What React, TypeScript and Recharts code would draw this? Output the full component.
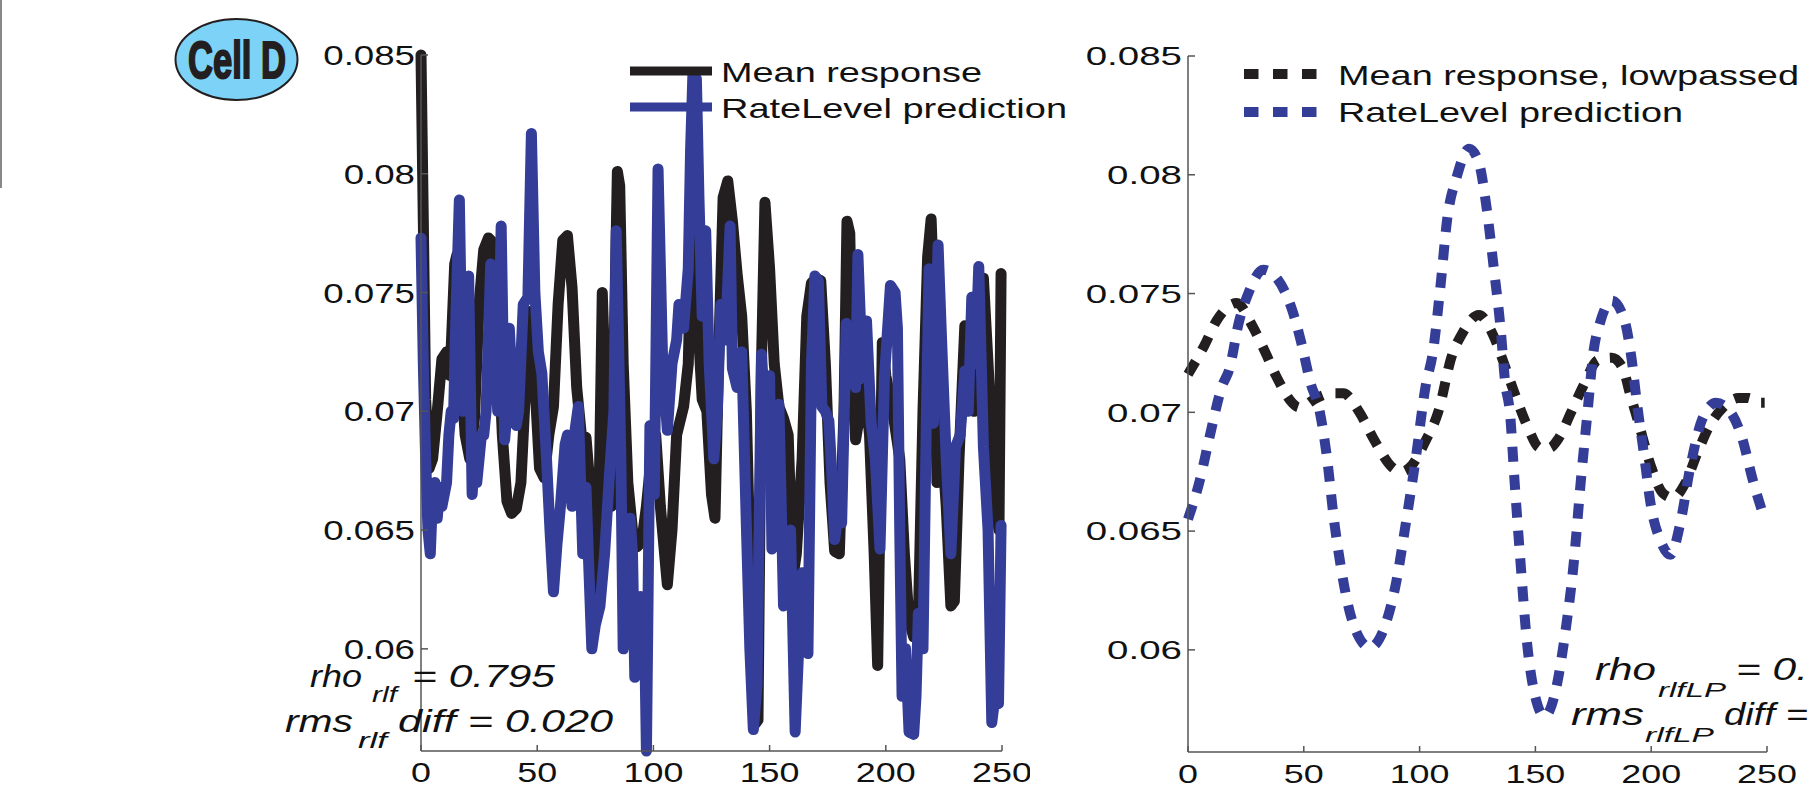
import { LineChart, Line, XAxis, YAxis } from "recharts"

const FONT = '"Liberation Sans", Arial, Helvetica, sans-serif'
const BLACK = "#231f20"
const BLUE = "#343d97"
const AXIS = "#555"

const xTicks = [0, 50, 100, 150, 200, 250]
const yTicks = [0.06, 0.065, 0.07, 0.075, 0.08, 0.085]
const yDomain = [0.0557, 0.085]

// left panel: raw responses
const meanResponse = [
  [0, 0.085], [1, 0.078], [2, 0.0705], [3.5, 0.0676], [5, 0.068], [7, 0.07], [9, 0.0722], [11, 0.0725],
  [12.5, 0.0715], [14.5, 0.0762], [15.5, 0.0766], [17, 0.072], [19, 0.069], [21, 0.068], [23, 0.0697],
  [25, 0.0745], [27, 0.0768], [29, 0.0773], [31, 0.0771], [33, 0.0735], [35, 0.069], [37, 0.0662],
  [39, 0.0657], [41, 0.0659], [43, 0.067], [45, 0.071], [47, 0.0742], [49, 0.0712], [51, 0.0676],
  [53, 0.0672], [55, 0.069], [57, 0.0702], [59, 0.0745], [61, 0.0772], [63, 0.0774], [65, 0.0752],
  [67, 0.071], [69, 0.069], [71, 0.0689], [73, 0.0665], [75, 0.0612], [76.5, 0.0655], [78, 0.075],
  [80, 0.069], [82, 0.066], [83, 0.072], [84.5, 0.0801], [85.5, 0.0795], [87, 0.072], [89, 0.067],
  [91, 0.065], [93, 0.0643], [95, 0.0645], [97, 0.066], [99, 0.068], [101, 0.069], [103, 0.066],
  [106, 0.0627], [108, 0.065], [110, 0.069], [113, 0.0702], [115, 0.072], [117, 0.0796], [119, 0.074],
  [121, 0.0705], [123, 0.07], [125, 0.0665], [126.5, 0.0655], [128, 0.072], [130, 0.079], [132, 0.0797],
  [134, 0.078], [136, 0.0758], [138, 0.074], [140, 0.07], [142, 0.062], [143.5, 0.0568], [145, 0.057],
  [146.5, 0.072], [148, 0.0788], [150, 0.076], [152, 0.072], [154, 0.0702], [156, 0.0697], [158, 0.069],
  [160, 0.063], [161.5, 0.064], [164, 0.068], [166, 0.074], [168, 0.0754], [170, 0.0756], [172, 0.0755],
  [174, 0.072], [176, 0.067], [178, 0.0641], [180, 0.064], [182, 0.07], [183.3, 0.078], [184.5, 0.0775],
  [185.5, 0.072], [187, 0.0688], [189, 0.07], [191, 0.071], [193, 0.069], [195, 0.064], [196.5, 0.0593],
  [198.5, 0.0729], [200, 0.0715], [203, 0.07], [206, 0.068], [208, 0.064], [210, 0.0612], [212, 0.0605],
  [214, 0.0612], [216, 0.07], [218, 0.0765], [219.5, 0.0781], [221, 0.074], [222, 0.067], [224, 0.069],
  [226, 0.066], [228, 0.0618], [229.5, 0.062], [231.5, 0.068], [234, 0.0736], [236, 0.071], [238, 0.07],
  [240, 0.073], [242, 0.0756], [244, 0.072], [246, 0.068], [247, 0.066], [248.7, 0.065], [249.6, 0.0758],
]

const rateLevel = [
  [0, 0.0773], [1, 0.072], [2, 0.068], [3, 0.065], [4, 0.064], [5, 0.0665], [6, 0.067], [7, 0.0655],
  [8, 0.0668], [9, 0.066], [10, 0.0665], [11, 0.067], [12, 0.069], [13, 0.07], [14, 0.0697], [15, 0.074],
  [16.5, 0.0789], [18, 0.07], [19, 0.0705], [20.5, 0.0757], [22, 0.0665], [23, 0.068], [24, 0.067],
  [26, 0.069], [27, 0.069], [28, 0.07], [30, 0.0762], [32, 0.0719], [33, 0.07], [34.5, 0.0778],
  [36, 0.0688], [37, 0.07], [38, 0.0735], [39, 0.0715], [41, 0.0694], [42, 0.07], [44, 0.0745],
  [46, 0.0748], [47.5, 0.0817], [49, 0.075], [50.5, 0.0725], [52, 0.0716], [54, 0.068], [55.5, 0.065],
  [57, 0.0624], [58.5, 0.0644], [60, 0.066], [62, 0.0686], [63, 0.069], [65, 0.066], [66, 0.069],
  [67.7, 0.0702], [69.6, 0.064], [71, 0.0668], [72, 0.064], [73.5, 0.06], [75, 0.061], [77, 0.0618],
  [79, 0.064], [81, 0.0672], [83, 0.07], [84, 0.0776], [85, 0.073], [86, 0.068], [87, 0.06], [88, 0.061],
  [90, 0.0655], [91, 0.064], [92, 0.0588], [93.5, 0.06], [94.6, 0.0622], [96, 0.062], [97, 0.0557],
  [98.5, 0.0694], [100.4, 0.0665], [102, 0.0802], [104, 0.072], [106, 0.0692], [108, 0.072], [110, 0.073],
  [111, 0.0745], [113, 0.0735], [115, 0.076], [116, 0.081], [117, 0.0842], [118.5, 0.084], [119.6, 0.079],
  [121, 0.074], [122.5, 0.0776], [124, 0.072], [126, 0.068], [127.5, 0.07], [129, 0.0745], [131, 0.073],
  [133, 0.0778], [134, 0.0718], [136, 0.071], [138, 0.0725], [140, 0.0652], [141.5, 0.06], [143, 0.0566],
  [144.6, 0.0585], [146.5, 0.0724], [148, 0.07], [150, 0.0715], [151, 0.0642], [152.5, 0.068],
  [154, 0.0703], [156, 0.0618], [157.5, 0.064], [159, 0.065], [161, 0.0565], [162.5, 0.06], [164, 0.0632],
  [166.5, 0.0598], [168, 0.072], [169.5, 0.0757], [171, 0.0755], [172.5, 0.0702], [174, 0.07],
  [175.5, 0.0696], [177, 0.067], [178, 0.0646], [180, 0.066], [181, 0.0653], [183, 0.0737], [185, 0.0725],
  [187, 0.071], [188, 0.0766], [190, 0.0714], [191.7, 0.0738], [193.7, 0.0695], [195.5, 0.068],
  [197.5, 0.0642], [199.4, 0.0714], [202, 0.0753], [204, 0.075], [205, 0.0735], [206, 0.065], [207, 0.058],
  [208.5, 0.06], [210, 0.0565], [212, 0.0564], [213, 0.058], [214, 0.0615], [216, 0.06], [217.5, 0.07],
  [218.6, 0.076], [220.5, 0.0695], [222.5, 0.077], [224, 0.073], [226, 0.068], [228, 0.064], [230, 0.0685],
  [232, 0.069], [234, 0.0717], [235.5, 0.07], [237, 0.0748], [238.5, 0.072], [240, 0.0761], [242, 0.0685],
  [244, 0.065], [245.6, 0.0569], [247, 0.058], [248.5, 0.0577], [249.6, 0.0652],
]

// right panel: lowpassed
const meanLowpassed = [
  [0, 0.0716], [7, 0.0728], [12.6, 0.0739], [21, 0.0746], [28, 0.0736], [33.5, 0.0725], [38.7, 0.0714],
  [45, 0.0704], [48, 0.0702], [55.5, 0.0706], [62, 0.0708], [67, 0.0708], [74, 0.07], [80.6, 0.0688],
  [88, 0.0677], [92, 0.0675], [96, 0.0677], [102.6, 0.0688], [108, 0.07], [114, 0.0724], [118.3, 0.0733],
  [125.6, 0.0741], [132, 0.0732], [137, 0.0719], [141, 0.0708], [146.6, 0.0694], [152, 0.0685],
  [156, 0.0685], [160, 0.0689], [165.4, 0.07], [170.6, 0.0711], [177, 0.0722], [183, 0.0723], [188, 0.0718],
  [190.5, 0.0709], [194.7, 0.0695], [200, 0.0677], [205, 0.0666], [209.4, 0.0664], [214.6, 0.067],
  [220, 0.0683], [225, 0.0694], [231, 0.0702], [237.6, 0.0706], [242, 0.0706], [246, 0.0704], [249, 0.0704],
]

const rateLevelLowpassed = [
  [0, 0.0655], [5, 0.0671], [9.4, 0.069], [14.7, 0.0711], [17.8, 0.0718], [22, 0.0738], [26, 0.075],
  [32.5, 0.076], [38.7, 0.0756], [45, 0.0743], [49, 0.0729], [53, 0.0712], [56.5, 0.0702], [60, 0.0681],
  [63, 0.0655], [66, 0.0635], [71, 0.0612], [78.5, 0.0601], [85, 0.061], [90, 0.0629], [94, 0.0653],
  [98.4, 0.0681], [102.6, 0.0711], [105.7, 0.0725], [109, 0.0753], [112, 0.0782], [116, 0.0799],
  [121.4, 0.0811], [125.6, 0.0805], [128.8, 0.0787], [132, 0.0761], [135, 0.0735], [137, 0.0712],
  [139, 0.07], [141, 0.0671], [143.4, 0.0639], [146.6, 0.0601], [150, 0.058], [154, 0.0572], [159, 0.0584],
  [163, 0.0608], [166.5, 0.0636], [169.6, 0.0671], [172.7, 0.0702], [175, 0.0725], [178, 0.0738],
  [183, 0.0747], [188.4, 0.0739], [191.6, 0.0722], [193.7, 0.0705], [196.8, 0.0683], [200, 0.066],
  [204, 0.0646], [208.3, 0.064], [212.5, 0.0653], [216.7, 0.0676], [222, 0.0697], [228, 0.0704],
  [233.5, 0.0701], [239, 0.069], [244, 0.0671], [249, 0.0655],
]

const rows = (pts: number[][]) => pts.map(([x, y]) => ({ x, y }))

function YTick({ x, y, payload, size, sx }: any) {
  return (
    <g>
      <line x1={x} x2={x + 7} y1={y} y2={y} stroke={AXIS} strokeWidth={1.5} />
      <text
        transform={`translate(${x - 6},${y}) scale(${sx},1)`}
        textAnchor="end"
        dy="0.36em"
        fontSize={size}
        fontFamily={FONT}
        fill="#111"
      >
        {String(payload.value)}
      </text>
    </g>
  )
}

function XTick({ x, y, payload, size, sx }: any) {
  return (
    <g>
      <line x1={x} x2={x} y1={y} y2={y - 6} stroke={AXIS} strokeWidth={1.5} />
      <text
        transform={`translate(${x},${y + 31}) scale(${sx},1)`}
        textAnchor="middle"
        fontSize={size}
        fontFamily={FONT}
        fill="#111"
      >
        {String(payload.value)}
      </text>
    </g>
  )
}

function Label({ x, y, w, size = 31, italic = true, children }: any) {
  return (
    <text
      x={x}
      y={y}
      fontSize={size}
      fontStyle={italic ? "italic" : "normal"}
      fontFamily={FONT}
      fill="#111"
      textLength={w}
      lengthAdjust="spacingAndGlyphs"
    >
      {children}
    </text>
  )
}

export default function App() {
  return (
    <div style={{ position: "absolute", left: 0, top: 0, width: 1810, height: 785, overflow: "hidden", background: "#fff" }}>
      <div style={{ position: "absolute", left: 0, top: 0 }}>
        <LineChart width={1030} height={785} margin={{ top: 55, right: 28, bottom: 0, left: 321 }}>
          <XAxis
            type="number"
            dataKey="x"
            domain={[0, 250]}
            ticks={xTicks}
            interval={0}
            height={34}
            tickSize={0}
            tickMargin={0}
            tickLine={false}
            axisLine={{ stroke: AXIS, strokeWidth: 1.5 }}
            tick={(p: any) => <XTick {...p} size={27} sx={1.33} />}
          />
          <YAxis
            type="number"
            domain={yDomain}
            ticks={yTicks}
            interval={0}
            width={100}
            tickSize={0}
            tickMargin={0}
            tickLine={false}
            axisLine={{ stroke: AXIS, strokeWidth: 1.5 }}
            tick={(p: any) => <YTick {...p} size={28} sx={1.31} />}
          />
          <Line data={rows(meanResponse)} dataKey="y" type="linear" stroke={BLACK} strokeWidth={11}
            strokeLinejoin="round" strokeLinecap="round" dot={false} isAnimationActive={false} />
          <Line data={rows(rateLevel)} dataKey="y" type="linear" stroke={BLUE} strokeWidth={11}
            strokeLinejoin="round" strokeLinecap="round" dot={false} isAnimationActive={false} />
        </LineChart>
      </div>

      <div style={{ position: "absolute", left: 1030, top: 0 }}>
        <LineChart width={780} height={785} margin={{ top: 56, right: 43, bottom: 0, left: 58 }}>
          <XAxis
            type="number"
            dataKey="x"
            domain={[0, 250]}
            ticks={xTicks}
            interval={0}
            height={33}
            tickSize={0}
            tickMargin={0}
            tickLine={false}
            axisLine={{ stroke: AXIS, strokeWidth: 1.5 }}
            tick={(p: any) => <XTick {...p} size={26} sx={1.38} />}
          />
          <YAxis
            type="number"
            domain={yDomain}
            ticks={yTicks}
            interval={0}
            width={100}
            tickSize={0}
            tickMargin={0}
            tickLine={false}
            axisLine={{ stroke: AXIS, strokeWidth: 1.5 }}
            tick={(p: any) => <YTick {...p} size={26} sx={1.48} />}
          />
          <Line data={rows(meanLowpassed)} dataKey="y" type="monotone" stroke={BLACK} strokeWidth={10}
            strokeDasharray="15 13" dot={false} isAnimationActive={false} />
          <Line data={rows(rateLevelLowpassed)} dataKey="y" type="monotone" stroke={BLUE} strokeWidth={10}
            strokeDasharray="15 13" dot={false} isAnimationActive={false} />
        </LineChart>
      </div>

      <svg width={1810} height={785} style={{ position: "absolute", left: 0, top: 0, pointerEvents: "none" }}>
        <line x1={1} x2={1} y1={0} y2={188} stroke="#888" strokeWidth={2} />

        <ellipse cx={236.5} cy={59.5} rx={61} ry={40.5} fill="#7dd3f7" stroke={BLACK} strokeWidth={2} />
        <text x={188} y={78} fontSize={52} fontWeight="bold" fontFamily={FONT} fill={BLACK}
          stroke={BLACK} strokeWidth={2} textLength={98} lengthAdjust="spacingAndGlyphs">
          Cell D
        </text>

        <line x1={630} x2={712} y1={71} y2={71} stroke={BLACK} strokeWidth={9} />
        <line x1={630} x2={712} y1={107} y2={107} stroke={BLUE} strokeWidth={9} />
        <Label x={721} y={82} w={261} size={28} italic={false}>Mean response</Label>
        <Label x={721} y={118} w={346} size={28} italic={false}>RateLevel prediction</Label>

        <line x1={1244} x2={1317} y1={74} y2={74} stroke={BLACK} strokeWidth={10} strokeDasharray="14.5 14.5" />
        <line x1={1244} x2={1317} y1={112} y2={112} stroke={BLUE} strokeWidth={10} strokeDasharray="14.5 14.5" />
        <Label x={1338} y={85} w={461} size={28} italic={false}>Mean response, lowpassed</Label>
        <Label x={1338} y={122} w={345} size={28} italic={false}>RateLevel prediction</Label>

        <Label x={310} y={687} w={52} size={32}>rho</Label>
        <Label x={372} y={702} w={25} size={22}>rlf</Label>
        <Label x={412} y={687} w={143} size={32}>= 0.795</Label>
        <Label x={285} y={732} w={68} size={32}>rms</Label>
        <Label x={358} y={748} w={29} size={22}>rlf</Label>
        <Label x={398} y={732} w={215} size={32}>diff = 0.020</Label>

        <Label x={1595} y={680} w={61}>rho</Label>
        <Label x={1658} y={697} w={68} size={21}>rlfLP</Label>
        <Label x={1736} y={680} w={72}>= 0.</Label>
        <Label x={1571} y={725} w={73}>rms</Label>
        <Label x={1645} y={742} w={69} size={21}>rlfLP</Label>
        <Label x={1724} y={725} w={84}>diff =</Label>
      </svg>
    </div>
  )
}
